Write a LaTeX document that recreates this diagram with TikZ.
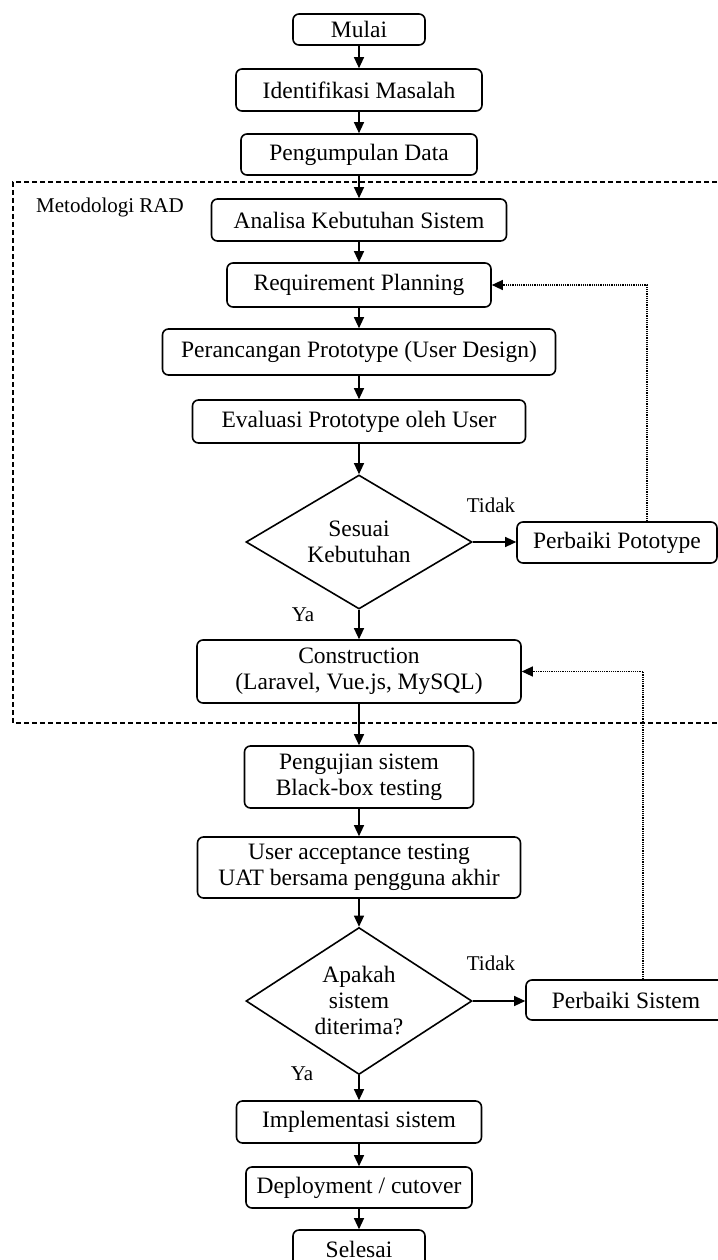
\documentclass[tikz,border=0pt]{standalone}
\usepackage{fontspec}
\setmainfont{Liberation Serif}
\usetikzlibrary{arrows.meta,shapes.geometric,positioning}

\begin{document}
\begin{tikzpicture}[%
    x=1pt, y=-1pt,%
    font=\fontsize{23.5}{26}\selectfont,%
    >={Triangle[length=11pt, width=10pt]},%
  ]
  \tikzset{%
    proses/.style={draw, rounded corners=6pt, line width=1.6pt, inner sep=0pt, align=center},%
    keputusan/.style={draw, diamond, aspect=1.6, line width=1.6pt, inner sep=0pt, align=center},%
    alur/.style={->, line width=1.2pt},%
    umpan balik/.style={->, line width=1.2pt, densely dotted},%
    keterangan/.style={font=\fontsize{21}{24}\selectfont},%
  }%

  % Latar
  \fill[white] (0,0) rectangle (717,1260);%
  \useasboundingbox (0,0) rectangle (717,1260);%

  %
  % Bingkai RAD
  %
  \draw[line width=1.4pt, dash pattern=on 5pt off 3pt] (725,182) -- (13,182) -- (13,723) -- (725,723);%
  \node[keterangan] (judulRad) at (110,207) {Metodologi RAD};%

  %
  % Tahapan utama
  %
  \foreach \x/\y/\w/\h/\z in {%
      mulai/29.5/132/31/{Mulai},%
      identifikasi/90/246/42/{Identifikasi Masalah},%
      pengumpulan/154.5/236/41/{Pengumpulan Data},%
      analisa/220/295/42/{Analisa Kebutuhan Sistem},%
      requirement/285/264/44/{Requirement Planning},%
      perancangan/352/393/46/{Perancangan Prototype (User Design)},%
      evaluasi/421.5/333/43/{Evaluasi Prototype oleh User},%
      construction/671.5/324/63/{Construction\\(Laravel, Vue.js, MySQL)},%
      pengujian/777/229/62/{Pengujian sistem\\Black-box testing},%
      uat/867.5/323/61/{User acceptance testing\\UAT bersama pengguna akhir},%
      implementasi/1122/245/42/{Implementasi sistem},%
      deployment/1187.5/226/41/{Deployment / cutover},%
      selesai/1249/132/38/{Selesai}%
    } {%
      \node[proses, minimum width=\w, minimum height=\h] (\x) at (359,\y) {\z};%
    }%

  %
  % Keputusan
  %
  \node[keputusan, minimum width=226, minimum height=134] (sesuai) at (359,542) {Sesuai\\Kebutuhan};%
  \node[keputusan, minimum width=226, minimum height=147] (diterima) at (359,1001) {Apakah\\sistem\\diterima?};%

  % Perbaikan
  \node[proses, minimum width=200, minimum height=41] (perbaikiPrototype) at (617,542.5) {Perbaiki Pototype};%
  \node[proses, minimum width=200, minimum height=40] (perbaikiSistem) at (626,1000) {Perbaiki Sistem};%

  %
  % Alur
  %
  \foreach \x/\y in {mulai/identifikasi, identifikasi/pengumpulan, pengumpulan/analisa,%
      analisa/requirement, requirement/perancangan, perancangan/evaluasi, evaluasi/sesuai,%
      sesuai/construction, construction/pengujian, pengujian/uat, uat/diterima,%
      diterima/implementasi, implementasi/deployment, deployment/selesai} {%
      \draw[alur] (\x) -- (\y);%
    }%

  \draw[alur] (sesuai.east) -- (sesuai.east -| perbaikiPrototype.west);%
  \draw[alur] (diterima.east) -- (diterima.east -| perbaikiSistem.west);%
  \draw[umpan balik] ([xshift=30pt]perbaikiPrototype.north) |- (requirement.east);%
  \draw[umpan balik] ([xshift=17pt]perbaikiSistem.north) |- (construction.east);%

  % Label cabang
  \node[keterangan] (tidakSesuai) at (491,505) {Tidak};%
  \node[keterangan] (yaSesuai) at (303,615) {Ya};%
  \node[keterangan] (tidakDiterima) at (491,963) {Tidak};%
  \node[keterangan] (yaDiterima) at (302,1074) {Ya};%
\end{tikzpicture}
\end{document}
